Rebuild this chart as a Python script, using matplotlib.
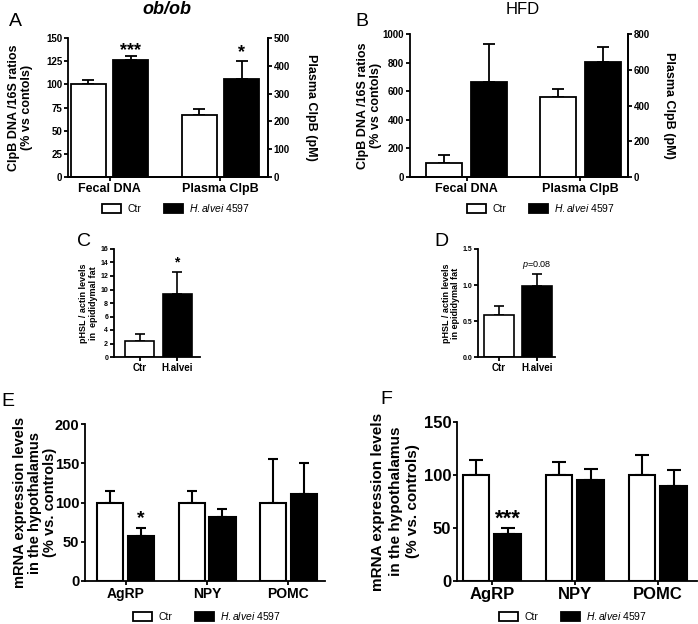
import numpy as np
import matplotlib
matplotlib.use("Agg")
import matplotlib.pyplot as plt
from matplotlib.patches import Patch

plt.rcParams['font.family'] = ['Liberation Sans', 'DejaVu Sans']
plt.rcParams['font.weight'] = 'bold'
plt.rcParams['axes.labelweight'] = 'bold'
plt.rcParams['mathtext.fontset'] = 'custom'
plt.rcParams['mathtext.it'] = 'Liberation Sans:italic:normal'
plt.rcParams['mathtext.rm'] = 'Liberation Sans:normal'

# ---- data ----
groups_ab = ["Fecal DNA", "Plasma ClpB"]
a_fecal_ctr, a_fecal_ctr_err = 100, 5
a_fecal_hal, a_fecal_hal_err = 126, 4.5
a_plasma_ctr, a_plasma_ctr_err = 223, 20
a_plasma_hal, a_plasma_hal_err = 354, 63

b_fecal_ctr, b_fecal_ctr_err = 100, 55
b_fecal_hal, b_fecal_hal_err = 664, 264
b_plasma_ctr, b_plasma_ctr_err = 446, 48
b_plasma_hal, b_plasma_hal_err = 645, 80

groups_cd = ["Ctr", "H.alvei"]
c_vals = [2.4, 9.3]
c_errs = [1.05, 3.3]
d_vals = [0.58, 0.98]
d_errs = [0.13, 0.17]

genes = ["AgRP", "NPY", "POMC"]
e_ctr = [100, 100, 100]
e_ctr_err = [15, 15, 55]
e_hal = [57, 82, 111]
e_hal_err = [11, 10, 39]
f_ctr = [100, 100, 100]
f_ctr_err = [14.5, 12.5, 18.5]
f_hal = [44, 95, 90]
f_hal_err = [6, 11, 15]

W, H = 698, 624
fig = plt.figure(figsize=(W / 100, H / 100), dpi=100)


def box(x0, x1, y0, y1):
    return fig.add_axes([x0 / W, 1 - y1 / H, (x1 - x0) / W, (y1 - y0) / H])


def bars(ax, x, vals, errs, color, width, lw, cap):
    x = np.atleast_1d(x)
    vals = np.atleast_1d(vals)
    errs = np.atleast_1d(errs)
    ax.errorbar(x, vals, yerr=[np.zeros_like(errs), errs], fmt='none',
                ecolor='k', elinewidth=lw, capsize=cap, capthick=lw, zorder=1)
    ax.bar(x, vals, width, color=color, edgecolor='k', linewidth=lw, zorder=2)


def style(ax, ytick_fs, xtick_fs, right=False):
    ax.spines['top'].set_visible(False)
    if not right:
        ax.spines['right'].set_visible(False)
    for s in ax.spines.values():
        s.set_linewidth(1.3)
    ax.tick_params(width=1.3, length=3, pad=1.2)
    ax.tick_params(axis='y', labelsize=ytick_fs)
    ax.tick_params(axis='x', labelsize=xtick_fs)


def legend(ax, x, y, fs, hl=1.8, cs=2.2):
    handles = [Patch(facecolor='white', edgecolor='k', linewidth=1.3),
               Patch(facecolor='black', edgecolor='k', linewidth=1.3)]
    leg = ax.legend(handles, ["Ctr", r"$\mathit{H.alvei}$ 4597"], ncol=2,
                    loc='center', bbox_to_anchor=(x / W, 1 - y / H),
                    bbox_transform=fig.transFigure, frameon=False,
                    prop={'size': fs, 'weight': 'normal'}, handlelength=hl,
                    handleheight=0.9, columnspacing=cs, handletextpad=0.6)
    return leg


# ---- panel A ----
ax = box(68, 268, 38, 177)
off, w = 0.19, 0.315
bars(ax, 0 - off, a_fecal_ctr, a_fecal_ctr_err, 'white', w, 1.3, 4.5)
bars(ax, 0 + off, a_fecal_hal, a_fecal_hal_err, 'black', w, 1.3, 4.5)
ax.set_ylim(0, 150)
ax.set_yticks(np.arange(0, 151, 25))
ax.set_xlim(-0.374, 1.428)
ax.set_xticks([0, 1])
ax.set_xticklabels(groups_ab)
ax.set_ylabel("ClpB DNA /16S ratios\n(% vs contols)", fontsize=9, linespacing=1.1)
ax.yaxis.set_label_coords(-0.175, 0.5)
style(ax, 7, 9, right=True)
ax2 = ax.twinx()
bars(ax2, 1 - off, a_plasma_ctr, a_plasma_ctr_err, 'white', w, 1.3, 4.5)
bars(ax2, 1 + off, a_plasma_hal, a_plasma_hal_err, 'black', w, 1.3, 4.5)
ax2.set_ylim(0, 500)
ax2.set_yticks(np.arange(0, 501, 100))
ax2.set_ylabel("Plasma ClpB (pM)", fontsize=9, rotation=270)
ax2.yaxis.set_label_coords(1.245, 0.5)
style(ax2, 7, 9, right=True)
ax2.spines['left'].set_visible(False)
ax.text(0 + off, 127, "***", ha='center', va='bottom', fontsize=13)
ax2.text(1 + off, 418, "*", ha='center', va='bottom', fontsize=13)
legend(ax, 176, 208, 7.5)

# ---- panel B ----
ax = box(410, 628, 34, 177)
off, w = 0.197, 0.315
bars(ax, 0 - off, b_fecal_ctr, b_fecal_ctr_err, 'white', w, 1.3, 4.5)
bars(ax, 0 + off, b_fecal_hal, b_fecal_hal_err, 'black', w, 1.3, 4.5)
ax.set_ylim(0, 1000)
ax.set_yticks(np.arange(0, 1001, 200))
ax.set_xlim(-0.496, 1.417)
ax.set_xticks([0, 1])
ax.set_xticklabels(groups_ab)
ax.set_ylabel("ClpB DNA /16S ratios\n(% vs contols)", fontsize=9, linespacing=1.1)
ax.yaxis.set_label_coords(-0.128, 0.5)
style(ax, 7, 9, right=True)
ax2 = ax.twinx()
bars(ax2, 1 - off, b_plasma_ctr, b_plasma_ctr_err, 'white', w, 1.3, 4.5)
bars(ax2, 1 + off, b_plasma_hal, b_plasma_hal_err, 'black', w, 1.3, 4.5)
ax2.set_ylim(0, 800)
ax2.set_yticks(np.arange(0, 801, 200))
ax2.set_ylabel("Plasma ClpB (pM)", fontsize=9, rotation=270)
ax2.yaxis.set_label_coords(1.216, 0.5)
style(ax2, 7, 9, right=True)
ax2.spines['left'].set_visible(False)
legend(ax, 541, 208, 7.5)

# ---- panel C ----
ax = box(114, 200, 249, 357)
bars(ax, [0, 1], c_vals, c_errs, ['white', 'black'], 0.77, 1.2, 3.5)
ax.set_ylim(0, 16)
ax.set_yticks(np.arange(0, 17, 2))
ax.set_xlim(-0.68, 1.61)
ax.set_xticks([0, 1])
ax.set_xticklabels(groups_cd)
ax.set_ylabel("pHSL / actin levels\nin  epididymal fat", fontsize=6.5, linespacing=1.05)
ax.yaxis.set_label_coords(-0.19, 0.5)
style(ax, 5, 7)
ax.text(1, 13.0, "*", ha='center', va='bottom', fontsize=10)

# ---- panel D ----
ax = box(478, 555, 249, 357)
bars(ax, [0, 1], d_vals, d_errs, ['white', 'black'], 0.79, 1.2, 3.5)
ax.set_ylim(0, 1.5)
ax.set_yticks([0, 0.5, 1.0, 1.5])
ax.set_yticklabels(["0.0", "0.5", "1.0", "1.5"])
ax.set_xlim(-0.55, 1.47)
ax.set_xticks([0, 1])
ax.set_xticklabels(groups_cd)
ax.set_ylabel("pHSL / actin levels\nin epididymal fat", fontsize=6.5, linespacing=1.05)
ax.yaxis.set_label_coords(-0.234, 0.5)
style(ax, 5, 7)
ax.text(1, 1.2, r"$\mathit{p}$=0.08", ha='center', va='bottom', fontsize=6.5,
        fontweight='normal')

# ---- panel E ----
ax = box(85, 325, 424, 581)
x = np.arange(len(genes))
off, w = 0.19, 0.32
bars(ax, x - off, e_ctr, e_ctr_err, 'white', w, 1.5, 3.6)
bars(ax, x + off, e_hal, e_hal_err, 'black', w, 1.5, 3.6)
ax.set_ylim(0, 200)
ax.set_yticks(np.arange(0, 201, 50))
ax.set_xlim(-0.50, 2.45)
ax.set_xticks(x)
ax.set_xticklabels(genes)
ax.set_ylabel("mRNA expression levels\nin the hypothalamus\n(% vs. controls)",
              fontsize=10.5, linespacing=1.1)
ax.yaxis.set_label_coords(-0.117, 0.5)
style(ax, 10.5, 10)
ax.text(0 + off, 69, "*", ha='center', va='bottom', fontsize=14)
legend(ax, 207, 616, 7.5)

# ---- panel F ----
ax = box(457, 697, 422, 581)
x = np.arange(len(genes))
off, w = 0.19, 0.32
bars(ax, x - off, f_ctr, f_ctr_err, 'white', w, 1.5, 5)
bars(ax, x + off, f_hal, f_hal_err, 'black', w, 1.5, 5)
ax.set_ylim(0, 150)
ax.set_yticks(np.arange(0, 151, 50))
ax.set_xlim(-0.42, 2.47)
ax.set_xticks(x)
ax.set_xticklabels(genes)
ax.set_ylabel("mRNA expression levels\nin the hypothalamus\n(% vs. controls)",
              fontsize=11, linespacing=1.3)
ax.yaxis.set_label_coords(-0.154, 0.5)
style(ax, 12, 12)
ax.text(0 + off, 48, "***", ha='center', va='bottom', fontsize=16)
legend(ax, 573, 616, 7.5)

# ---- titles and panel letters ----
fig.text(167 / W, 1 - 10 / H, "ob/ob", ha='center', va='center', fontsize=13,
         style='italic', fontweight='bold')
fig.text(523 / W, 1 - 10 / H, "HFD", ha='center', va='center', fontsize=12,
         fontweight='normal')
for letter, px, py in [("A", 15, 22), ("B", 362, 22), ("C", 84, 242),
                       ("D", 441, 242), ("E", 8, 401), ("F", 386, 400)]:
    fig.text(px / W, 1 - py / H, letter, ha='center', va='center', fontsize=14,
             fontweight='normal')

fig.savefig("out.png", dpi=100)
